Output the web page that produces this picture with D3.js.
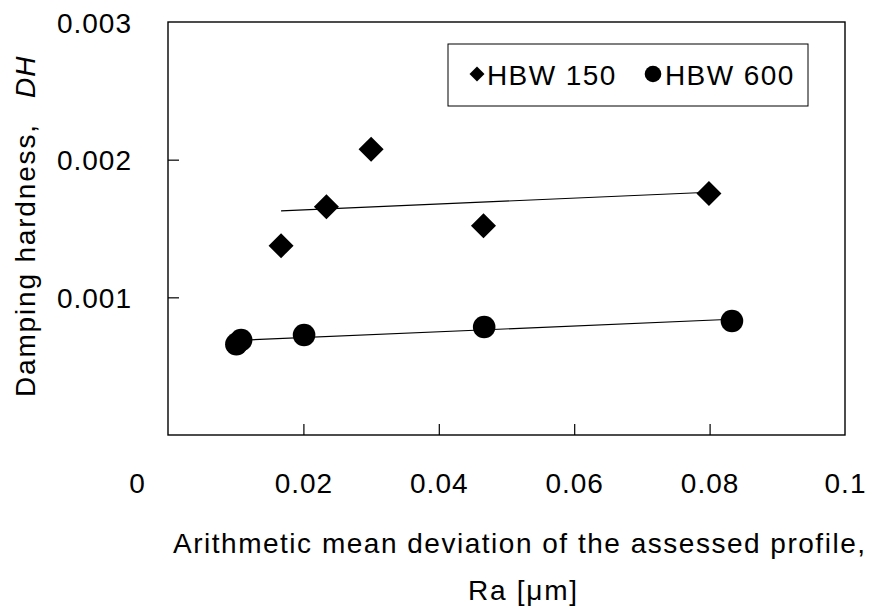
<!DOCTYPE html>
<html><head><meta charset="utf-8">
<script src="https://cdn.jsdelivr.net/npm/d3@7"></script>
<style>
body{margin:0;background:#fff}
svg{display:block}
text{font-family:"Liberation Sans",Arial,sans-serif;fill:#000}
</style>
</head><body>
<svg id="c" width="872" height="610"></svg>
<script>
// ---- data ----
const seriesNames = ["HBW 150", "HBW 600"];
const hbw150Ra = [0.0167, 0.0234, 0.0300, 0.0466, 0.0799];
const hbw150DH = [0.001375, 0.001658, 0.002075, 0.001520, 0.001755];
const hbw600Ra = [0.0101, 0.0108, 0.0201, 0.0467, 0.0833];
const hbw600DH = [0.00066, 0.00069, 0.000726, 0.000784, 0.000828];
const xTickValues = [0, 0.02, 0.04, 0.06, 0.08, 0.1];
const xTickLabels = ["0", "0.02", "0.04", "0.06", "0.08", "0.1"];
const yTickValues = [0.001, 0.002, 0.003];
const yTickLabels = ["0.001", "0.002", "0.003"];
const xTitle = "Arithmetic mean deviation of the assessed profile,";
const xUnit = "Ra [μm]";
const yTitle = "Damping hardness,";
const yTitleSym = "DH";

// ---- layout ----
const svg = d3.select("#c");
const L = 168, R = 845, T = 22, B = 435;
const x = d3.scaleLinear().domain([0, 0.1]).range([L, R]);
const y = d3.scaleLinear().domain([0, 0.003]).range([B, T]);
const FONT = "Liberation Sans, Arial, sans-serif";

// frame
svg.append("rect").attr("x", x(0)).attr("y", y(0.003))
  .attr("width", x(0.1) - x(0)).attr("height", y(0) - y(0.003))
  .attr("fill", "none").attr("stroke", "#000").attr("stroke-width", 1.4);

// inner ticks
svg.append("g").attr("transform", `translate(0,${y(0)})`)
  .call(d3.axisBottom(x).tickValues(xTickValues.slice(1, -1)).tickSizeInner(-11).tickSizeOuter(0).tickFormat(""))
  .call(g => g.select(".domain").remove())
  .call(g => g.selectAll("line").attr("stroke", "#000").attr("stroke-width", 1.2));
svg.append("g").attr("transform", `translate(${x(0)},0)`)
  .call(d3.axisLeft(y).tickValues(yTickValues.slice(0, -1)).tickSizeInner(-11).tickSizeOuter(0).tickFormat(""))
  .call(g => g.select(".domain").remove())
  .call(g => g.selectAll("line").attr("stroke", "#000").attr("stroke-width", 1.2));

// x tick labels
const xl = svg.append("g").attr("transform", `translate(0,${y(0)})`)
  .call(d3.axisBottom(x).tickValues(xTickValues).tickSize(0).tickPadding(0)
    .tickFormat((d, i) => xTickLabels[i]));
xl.select(".domain").remove();
xl.selectAll("text").attr("font-size", 28).attr("font-family", FONT)
  .attr("letter-spacing", "1px").attr("dy", null).attr("y", 58)
  .attr("dx", (d, i) => i === 0 ? -31 : 0);

// y tick labels
const yl = svg.append("g").attr("transform", `translate(${x(0)},0)`)
  .call(d3.axisLeft(y).tickValues(yTickValues).tickSize(0).tickPadding(36)
    .tickFormat((d, i) => yTickLabels[i]));
yl.select(".domain").remove();
yl.selectAll("text").attr("font-size", 28).attr("font-family", FONT)
  .attr("letter-spacing", "1px").attr("dy", "0.36em");

// regression lines
function fit(xs, ys) {
  const mx = d3.mean(xs), my = d3.mean(ys);
  let sxy = 0, sxx = 0;
  xs.forEach((v, i) => { sxy += (v - mx) * (ys[i] - my); sxx += (v - mx) * (v - mx); });
  const b = sxy / sxx, a = my - b * mx;
  const x0 = d3.min(xs), x1 = d3.max(xs);
  return [[x0, a + b * x0], [x1, a + b * x1]];
}
const line = d3.line().x(d => x(d[0])).y(d => y(d[1]));
[[hbw150Ra, hbw150DH], [hbw600Ra, hbw600DH]].forEach(([xs, ys]) => {
  svg.append("path").attr("d", line(fit(xs, ys)))
    .attr("fill", "none").attr("stroke", "#000").attr("stroke-width", 1.1);
});

// markers
const diamond = d3.symbol().type(d3.symbolSquare).size(313);
svg.append("g").selectAll("path").data(hbw150Ra.map((v, i) => [v, hbw150DH[i]]))
  .join("path").attr("d", diamond)
  .attr("transform", d => `translate(${x(d[0])},${y(d[1])}) rotate(45)`)
  .attr("fill", "#000");
svg.append("g").selectAll("circle").data(hbw600Ra.map((v, i) => [v, hbw600DH[i]]))
  .join("circle").attr("cx", d => x(d[0])).attr("cy", d => y(d[1])).attr("r", 11.3)
  .attr("fill", "#000");

// legend
const lg = svg.append("g").attr("transform", "translate(448,44)");
lg.append("rect").attr("width", 360).attr("height", 62).attr("fill", "#fff")
  .attr("stroke", "#000").attr("stroke-width", 1);
lg.append("path").attr("d", d3.symbol().type(d3.symbolSquare).size(112)())
  .attr("transform", "translate(29,30) rotate(45)").attr("fill", "#000");
lg.append("text").attr("x", 39).attr("y", 31).attr("dy", "0.36em")
  .attr("font-size", 28).attr("letter-spacing", "1.4px").text(seriesNames[0]);
lg.append("circle").attr("cx", 205).attr("cy", 30).attr("r", 8.3).attr("fill", "#000");
lg.append("text").attr("x", 217).attr("y", 31).attr("dy", "0.36em")
  .attr("font-size", 28).attr("letter-spacing", "1.4px").text(seriesNames[1]);

// axis titles
svg.append("text").attr("x", 173).attr("y", 553).attr("font-size", 28)
  .attr("textLength", 692).attr("lengthAdjust", "spacing").text(xTitle);
svg.append("text").attr("x", 468).attr("y", 600).attr("font-size", 28)
  .attr("textLength", 109).attr("lengthAdjust", "spacing").text(xUnit);

svg.append("text").attr("transform", "translate(35,397) rotate(-90)")
  .attr("font-size", 28).attr("textLength", 272).attr("lengthAdjust", "spacing").text(yTitle);
svg.append("text").attr("transform", "translate(35,98) rotate(-90)")
  .attr("font-size", 28).attr("font-style", "italic").attr("letter-spacing", "1px")
  .text(yTitleSym);
</script>
</body></html>
